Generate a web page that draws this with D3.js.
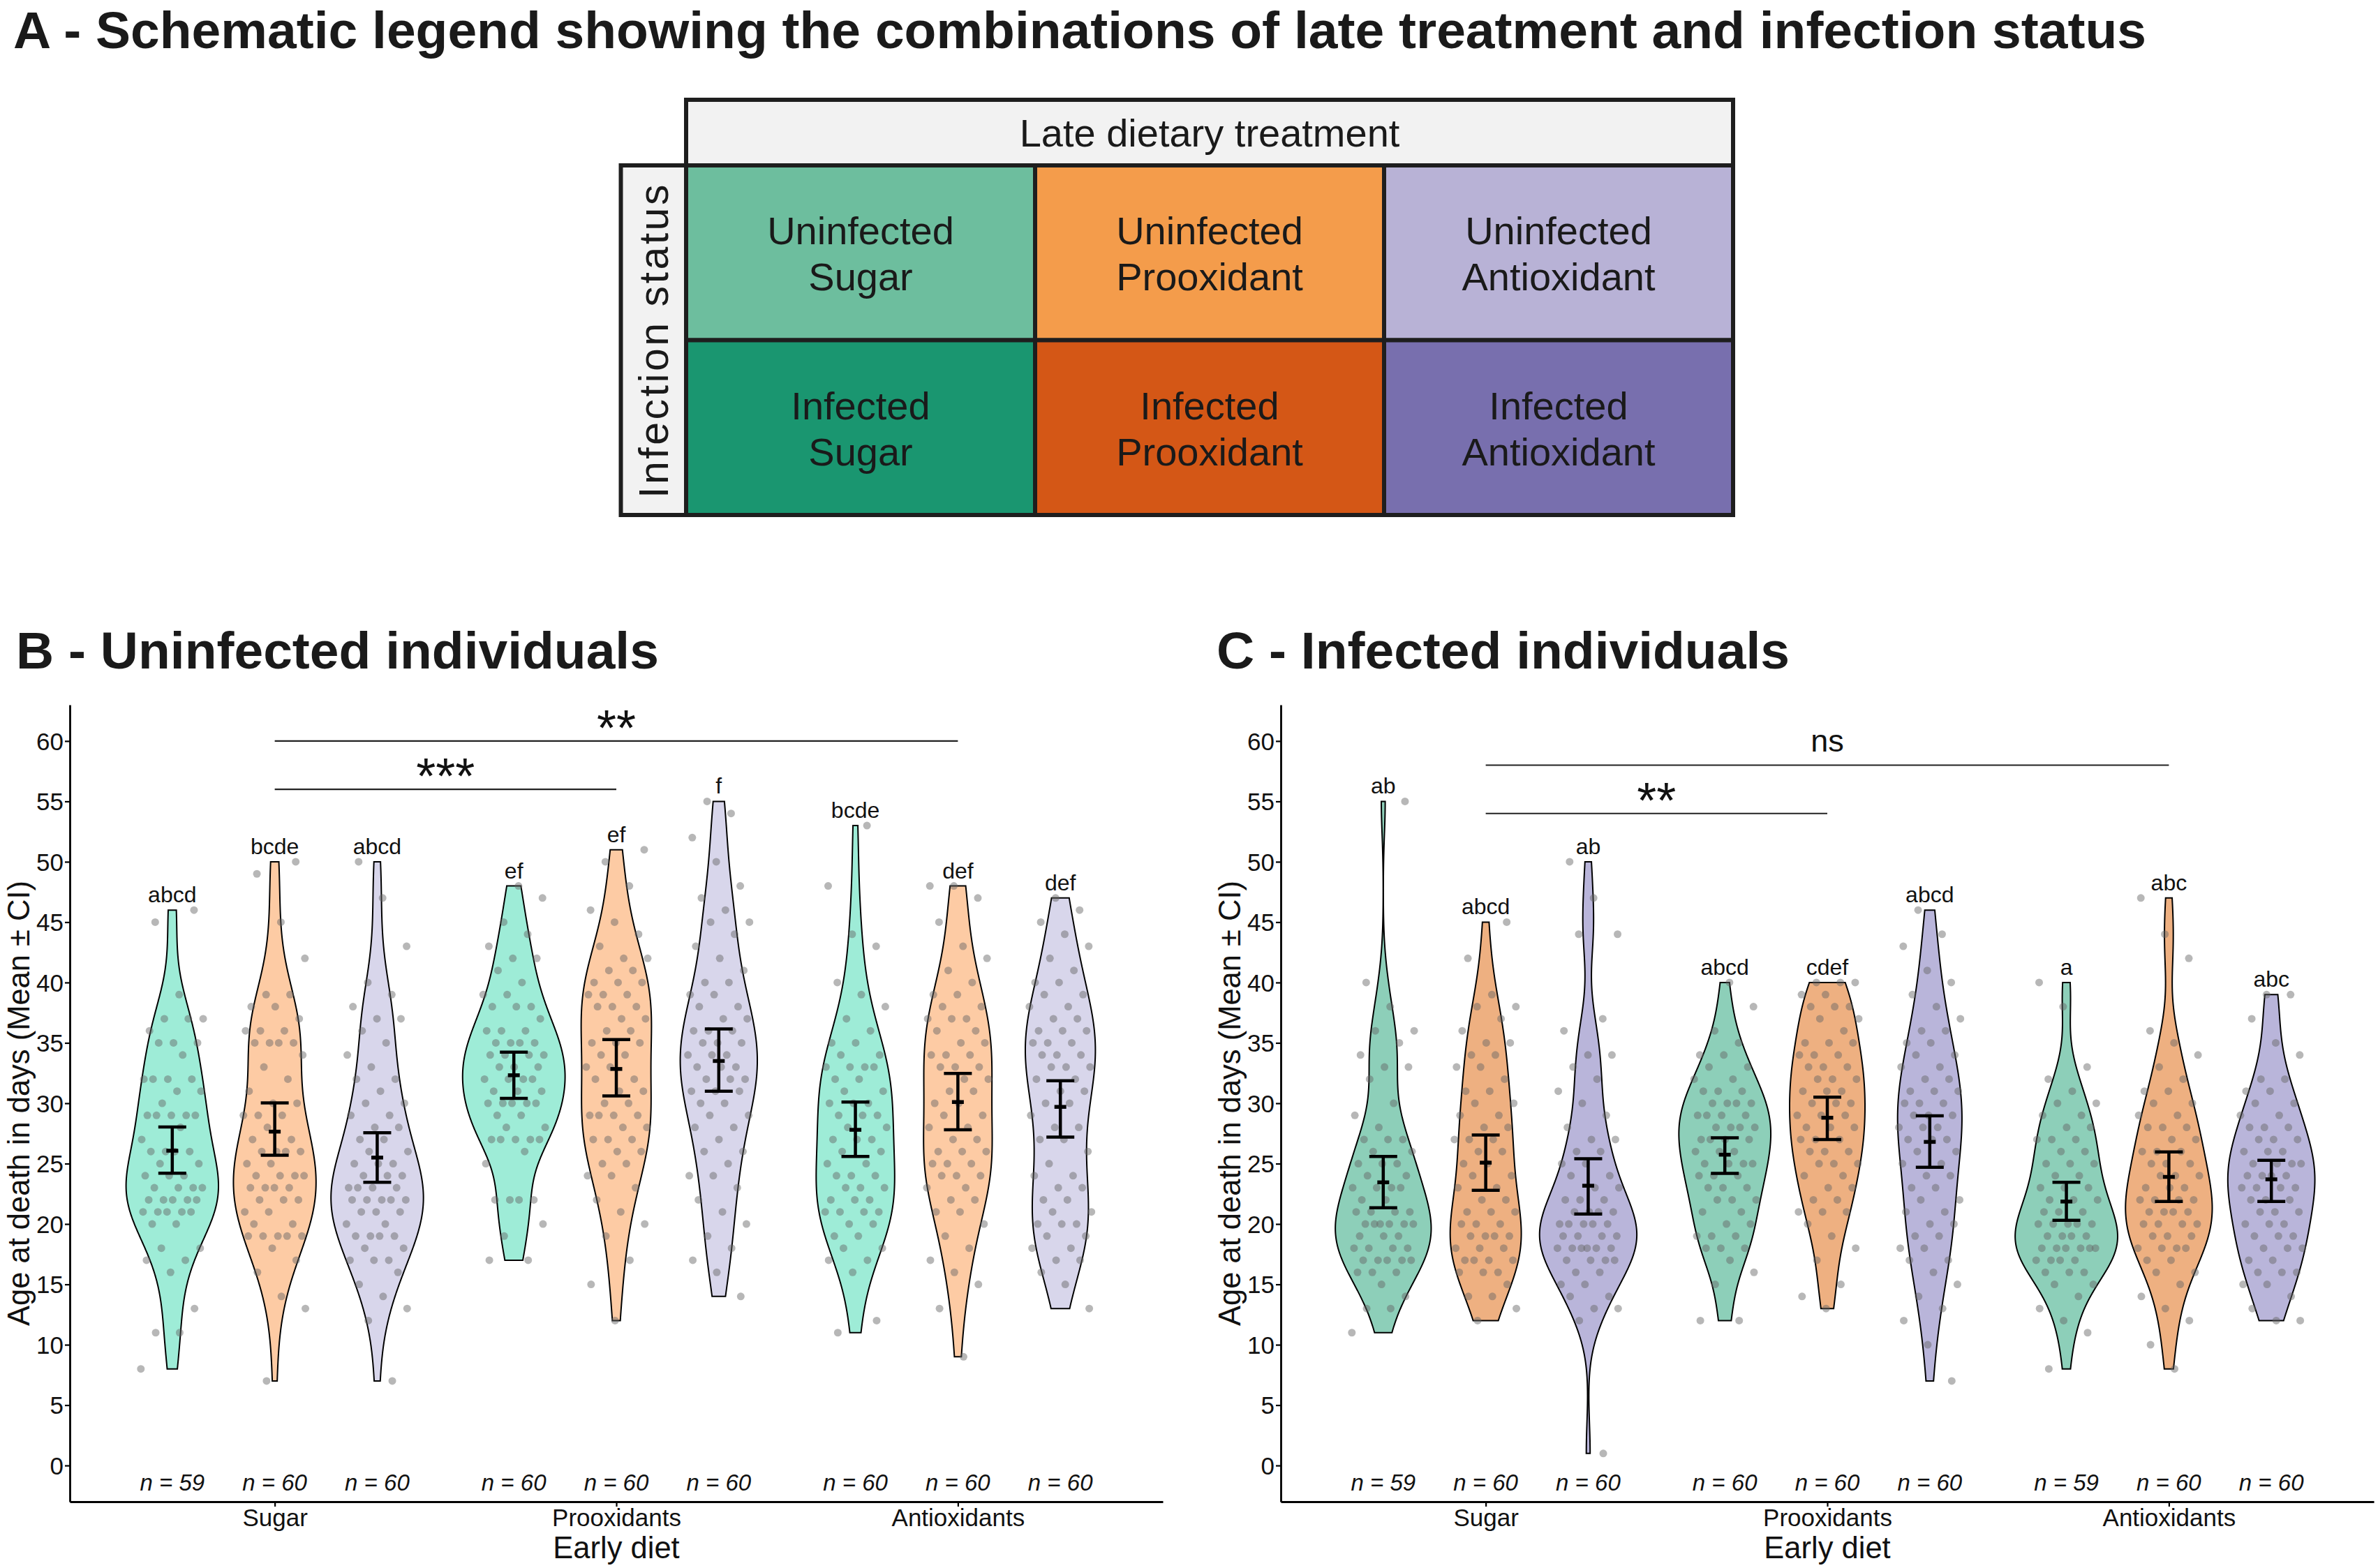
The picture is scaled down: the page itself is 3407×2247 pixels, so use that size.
<!DOCTYPE html>
<html>
<head>
<meta charset="utf-8">
<script src="https://cdn.jsdelivr.net/npm/d3@7"></script>
<style>
  html, body { margin: 0; padding: 0; background: #ffffff; }
  svg { display: block; }
  text { font-family: "Liberation Sans", Arial, Helvetica, sans-serif; fill: #111; }
</style>
</head>
<body>
<svg id="chart" width="3407" height="2247"></svg>
<script>
// ---------------- DATA ----------------
const earlyDiets = ["Sugar", "Prooxidants", "Antioxidants"];
const lateTreatments = ["Sugar", "Prooxidant", "Antioxidant"];
const infectionStatus = ["Uninfected", "Infected"];
const yTicks = [0, 5, 10, 15, 20, 25, 30, 35, 40, 45, 50, 55, 60];

// Panel B – uninfected: age at death (days) per early diet x late treatment
const uSugarSugar = [8,11,11,13,16,17,17,18,18,20,20,21,21,21,21,21,22,22,22,22,22,23,23,23,23,24,24,24,25,25,26,26,26,26,27,28,29,29,29,29,29,30,31,31,32,32,32,32,34,35,35,35,36,37,37,37,39,45,46];
const uSugarProox = [7,13,14,16,17,18,19,19,19,19,19,20,20,21,21,22,22,22,23,23,23,23,24,24,24,24,25,25,26,26,26,26,27,27,28,29,29,29,30,30,31,32,33,34,35,35,35,35,36,36,36,37,38,38,39,39,42,45,49,50];
const uSugarAntiox = [7,12,13,14,15,16,17,17,17,18,18,19,19,19,19,20,20,21,21,21,22,22,22,22,22,23,23,23,23,24,24,24,25,25,25,26,26,27,27,28,28,29,29,30,30,31,32,32,33,34,35,36,37,37,38,39,40,43,47,50];
const uProoxSugar = [17,17,19,20,22,22,22,22,25,26,27,27,27,27,27,28,28,29,29,30,30,30,30,30,31,31,31,32,32,32,32,33,33,33,34,34,34,34,35,35,35,35,36,36,36,37,38,38,38,39,39,40,41,42,42,43,44,45,47,48];
const uProoxProox = [12,15,17,19,20,21,22,23,24,24,25,25,26,26,27,27,27,28,28,29,29,29,29,30,30,31,31,32,32,33,33,34,34,35,35,35,36,36,37,37,38,38,38,39,39,39,40,40,40,41,41,42,42,43,44,45,46,48,50,51];
const uProoxAntiox = [14,16,17,18,19,20,21,22,23,24,24,25,26,26,27,28,28,29,29,30,30,31,31,31,32,32,32,33,33,33,34,34,34,35,35,35,36,36,36,37,37,38,38,39,39,40,40,41,42,43,44,45,45,46,47,48,50,52,54,55];
const uAntioxSugar = [11,12,16,17,17,18,18,19,19,20,20,21,21,21,21,22,22,22,23,23,23,24,24,24,25,25,26,26,27,27,27,28,28,29,29,29,30,30,30,31,31,32,32,33,33,33,33,34,34,35,35,36,37,38,39,40,43,44,48,53];
const uAntioxProox = [9,13,15,16,17,18,19,20,21,21,22,22,23,23,24,24,24,25,25,25,26,26,26,27,27,28,28,29,29,30,30,31,31,32,32,33,33,33,34,34,34,35,35,36,36,37,37,37,38,38,39,39,40,41,42,43,45,47,48,48];
const uAntioxAntiox = [13,15,16,17,17,18,18,19,19,20,20,20,21,21,22,22,23,23,24,24,25,26,27,27,28,28,29,30,30,31,31,32,32,33,33,33,34,34,34,35,35,35,36,36,36,37,37,38,38,39,39,40,40,41,42,43,44,45,46,47];

// Panel C – infected
const iSugarSugar = [11,13,13,14,15,16,16,16,17,17,17,17,17,18,18,18,18,19,19,19,20,20,20,20,20,20,21,21,21,21,22,22,23,23,23,23,24,24,25,25,25,26,26,27,27,27,28,29,30,32,33,33,34,35,36,36,38,40,55];
const iSugarProox = [12,13,14,14,15,16,16,16,17,17,17,17,18,18,18,19,19,19,19,20,20,20,21,21,21,22,22,23,23,24,24,25,25,26,26,27,27,27,28,28,29,29,30,30,31,31,32,33,33,34,34,35,35,36,37,38,38,39,42,45];
const iSugarAntiox = [1,12,13,13,14,14,15,15,16,16,17,17,17,17,18,18,18,18,18,18,19,19,19,19,20,20,20,20,20,21,21,21,21,22,22,22,23,23,24,24,25,25,26,26,27,27,28,29,30,31,32,33,34,34,36,37,44,44,47,50];
const iProoxSugar = [12,12,15,16,17,18,18,18,19,19,19,20,20,21,21,22,22,22,23,23,23,24,24,24,25,25,25,25,26,26,26,27,27,27,27,28,28,28,28,29,29,29,29,30,30,30,30,31,31,31,32,32,33,33,34,34,35,36,38,40];
const iProoxProox = [13,14,15,17,18,19,20,21,21,21,22,22,23,23,24,24,25,25,25,26,26,26,27,27,27,28,28,28,29,29,29,30,30,30,31,31,31,32,32,32,33,33,33,34,34,34,35,35,35,36,37,37,38,38,38,39,39,40,40,40];
const iProoxAntiox = [7,10,12,13,14,15,16,17,17,18,18,19,19,20,20,21,21,22,22,23,23,24,24,25,25,26,26,27,27,27,28,28,28,29,29,29,30,30,30,31,31,31,32,32,33,33,34,34,35,35,36,36,37,38,39,40,41,43,44,46];
const iAntioxSugar = [8,11,12,13,14,15,15,16,16,16,17,17,17,17,18,18,18,18,18,18,19,19,19,19,20,20,20,20,20,21,21,21,22,22,22,23,23,23,24,24,25,25,25,26,26,27,27,27,28,28,29,29,30,30,31,32,33,38,40];
const iAntioxProox = [8,10,12,13,14,15,16,16,17,17,18,18,18,18,19,19,19,20,20,20,20,21,21,21,21,22,22,22,22,23,23,23,24,24,24,25,25,25,26,26,26,27,27,28,28,28,29,29,30,30,31,31,32,33,34,35,36,42,44,47];
const iAntioxAntiox = [12,12,13,14,15,15,16,16,16,17,17,18,18,18,19,19,19,20,20,20,21,21,21,22,22,22,23,23,23,23,24,24,24,24,25,25,25,25,26,26,26,27,27,27,28,28,28,29,29,30,30,31,31,32,32,34,35,37,39,39];

// Mean and 95% CI (order: early diet, then late treatment)
const meanB = [26.07, 27.65, 25.5, 32.32, 32.84, 33.5, 27.8, 30.1, 29.7];
const ciLowB = [24.2, 25.7, 23.45, 30.41, 30.6, 31.0, 25.6, 27.8, 27.2];
const ciHighB = [28.03, 30.03, 27.56, 34.24, 35.27, 36.16, 30.1, 32.47, 31.86];
const lettersB = ["abcd", "bcde", "abcd", "ef", "ef", "f", "bcde", "def", "def"];
const nB = [59, 60, 60, 60, 60, 60, 60, 60, 60];

const meanC = [23.45, 25.08, 23.17, 25.74, 28.8, 26.8, 21.86, 23.9, 23.7];
const ciLowC = [21.35, 22.79, 20.83, 24.19, 27.0, 24.7, 20.3, 21.86, 21.86];
const ciHighC = [25.6, 27.37, 25.4, 27.14, 30.5, 28.96, 23.45, 25.97, 25.27];
const lettersC = ["ab", "abcd", "ab", "abcd", "cdef", "abcd", "a", "abc", "abc"];
const nC = [59, 60, 60, 60, 60, 60, 59, 60, 60];

// Significance brackets between early diets
const sigFromB = ["Sugar", "Sugar"], sigToB = ["Prooxidants", "Antioxidants"], sigYB = [56, 60], sigLabelB = ["***", "**"];
const sigFromC = ["Sugar", "Sugar"], sigToC = ["Prooxidants", "Antioxidants"], sigYC = [54, 58], sigLabelC = ["**", "ns"];

// Colours
const fillsB = ["#9eecd7", "#fdcba4", "#d8d6eb"];
const fillsC = ["#8dcfb9", "#eeb081", "#b9b5da"];
const tableUninfected = ["#6dbe9e", "#f49c4b", "#b8b2d6"];
const tableInfected = ["#1a9670", "#d45716", "#786fae"];

// ---------------- DRAW ----------------
const svg = d3.select("#chart");
const FONT = '"Liberation Sans", Arial, Helvetica, sans-serif';
svg.append("rect").attr("width", 3407).attr("height", 2247).attr("fill", "#ffffff");

// Title A
svg.append("text").attr("x", 19).attr("y", 69).attr("font-size", 75).attr("font-weight", "bold")
  .style("fill", "#1a1a1a").text("A - Schematic legend showing the combinations of late treatment and infection status");

// ---------- Panel A table ----------
const tCol = d3.scaleBand().domain(lateTreatments).range([983, 2483]);
const tRow = d3.scaleBand().domain(infectionStatus).range([237, 738]);
const tA = svg.append("g");
const borderCol = "#1e1e1e";
tA.append("rect").attr("x", 983).attr("y", 143).attr("width", 1500).attr("height", 94)
  .attr("fill", "#f2f2f2").attr("stroke", borderCol).attr("stroke-width", 6);
tA.append("text").attr("x", 1733).attr("y", 210).attr("text-anchor", "middle").attr("font-size", 56)
  .style("fill", "#1a1a1a").text("Late dietary treatment");
tA.append("rect").attr("x", 889.5).attr("y", 237).attr("width", 93.5).attr("height", 501)
  .attr("fill", "#f2f2f2").attr("stroke", borderCol).attr("stroke-width", 6);
tA.append("text").attr("transform", "translate(957,487.5) rotate(-90)").attr("text-anchor", "middle")
  .attr("font-size", 59).attr("letter-spacing", 3.5).style("fill", "#1a1a1a").text("Infection status");

const cells = [];
infectionStatus.forEach((inf, r) => lateTreatments.forEach((lt, c) => {
  cells.push({ inf, lt, color: (r === 0 ? tableUninfected : tableInfected)[c] });
}));
const cg = tA.selectAll("g.cell").data(cells).join("g").attr("class", "cell");
cg.append("rect")
  .attr("x", d => tCol(d.lt)).attr("y", d => tRow(d.inf))
  .attr("width", tCol.bandwidth()).attr("height", tRow.bandwidth())
  .attr("fill", d => d.color).attr("stroke", borderCol).attr("stroke-width", 6);
cg.append("text")
  .attr("x", d => tCol(d.lt) + tCol.bandwidth() / 2)
  .attr("y", d => tRow(d.inf) + tRow.bandwidth() / 2 - 12)
  .attr("text-anchor", "middle").attr("font-size", 56).style("fill", "#1a1a1a").text(d => d.inf);
cg.append("text")
  .attr("x", d => tCol(d.lt) + tCol.bandwidth() / 2)
  .attr("y", d => tRow(d.inf) + tRow.bandwidth() / 2 + 54)
  .attr("text-anchor", "middle").attr("font-size", 56).style("fill", "#1a1a1a").text(d => d.lt);

// ---------- Violin panels ----------
function bwNrd0(x) {
  const s = x.slice().sort(d3.ascending);
  const sd = d3.deviation(s);
  const iqr = d3.quantileSorted(s, 0.75) - d3.quantileSorted(s, 0.25);
  let lo = Math.min(sd, iqr / 1.34);
  if (!(lo > 0)) lo = sd || 1;
  return 0.9 * lo * Math.pow(s.length, -0.2);
}
function kde(vals, bw, t) {
  let s = 0;
  for (const v of vals) { const u = (t - v) / bw; s += Math.exp(-0.5 * u * u); }
  return s / (vals.length * bw * Math.sqrt(2 * Math.PI));
}

const y = d3.scaleLinear().domain([-3, 63]).range([2152, 1010]);

function drawPanel(cfg) {
  const g = svg.append("g");
  const x = d3.scalePoint().domain(earlyDiets).range([cfg.x0, cfg.x1]).padding(0.6);
  const step = x.step();
  const dodge = d3.scaleBand().domain(lateTreatments).range([-0.45 * step, 0.45 * step]);
  const halfW = dodge.bandwidth() / 2;

  const groups = [];
  earlyDiets.forEach((e, i) => lateTreatments.forEach((l, j) => {
    const k = i * 3 + j;
    const vals = cfg.data[k];
    const bw = bwNrd0(vals);
    const lo = d3.min(vals), hi = d3.max(vals);
    const dens = d3.range(512).map(q => { const t = lo + (hi - lo) * q / 511; return { t, d: kde(vals, bw, t) }; });
    groups.push({ e, l, j, k, vals, dens, cx: x(e) + dodge(l) + dodge.bandwidth() / 2 });
  }));
  const maxD = d3.max(groups, gr => d3.max(gr.dens, d => d.d));
  const wScale = d3.scaleLinear().domain([0, maxD]).range([0, halfW]);

  // Violins
  groups.forEach(gr => {
    const area = d3.area().y(d => y(d.t)).x0(d => gr.cx - wScale(d.d)).x1(d => gr.cx + wScale(d.d));
    g.append("path").attr("d", area(gr.dens) + "Z")
      .attr("fill", cfg.fills[gr.j]).attr("stroke", "#000").attr("stroke-width", 2);
  });

  // Jittered points
  groups.forEach(gr => {
    g.append("g").selectAll("circle").data(gr.vals).join("circle")
      .attr("cx", (v, i) => gr.cx + (((i * 0.6180339887 + gr.k * 0.37) % 1) - 0.5) * 90)
      .attr("cy", v => y(v)).attr("r", 5.5)
      .attr("fill", "#666666").attr("fill-opacity", 0.47);
  });

  // Mean ± CI
  groups.forEach(gr => {
    const m = cfg.mean[gr.k], lo = cfg.low[gr.k], hi = cfg.high[gr.k];
    const eb = g.append("g").attr("stroke", "#000").attr("stroke-width", 4.5);
    eb.append("line").attr("x1", gr.cx).attr("x2", gr.cx).attr("y1", y(lo)).attr("y2", y(hi));
    eb.append("line").attr("x1", gr.cx - 20).attr("x2", gr.cx + 20).attr("y1", y(lo)).attr("y2", y(lo));
    eb.append("line").attr("x1", gr.cx - 20).attr("x2", gr.cx + 20).attr("y1", y(hi)).attr("y2", y(hi));
    eb.append("line").attr("x1", gr.cx - 8.5).attr("x2", gr.cx + 8.5).attr("y1", y(m)).attr("y2", y(m)).attr("stroke-width", 5.5);
  });

  // Letters above violins and n labels
  groups.forEach(gr => {
    g.append("text").attr("x", gr.cx).attr("y", y(d3.max(gr.vals)) - 11).attr("text-anchor", "middle")
      .attr("font-size", 32).style("fill", "#111").text(cfg.letters[gr.k]);
    g.append("text").attr("x", gr.cx).attr("y", y(-2) + 1).attr("text-anchor", "middle")
      .attr("font-size", 33).attr("font-style", "italic").style("fill", "#111").text("n = " + cfg.n[gr.k]);
  });

  // Significance brackets
  cfg.sigFrom.forEach((f, i) => {
    const x1 = x(f), x2 = x(cfg.sigTo[i]), yy = y(cfg.sigY[i]);
    g.append("line").attr("x1", x1).attr("x2", x2).attr("y1", yy).attr("y2", yy)
      .attr("stroke", "#222").attr("stroke-width", 2.2);
    const lab = cfg.sigLabel[i];
    const isStar = lab.indexOf("*") >= 0;
    const fs = isStar ? 72 : 45;
    const centerY = yy - (isStar ? 35 : 31);
    g.append("text").attr("x", (x1 + x2) / 2).attr("y", centerY + (isStar ? 0.57 * fs : 0.26 * fs))
      .attr("text-anchor", "middle").attr("font-size", fs).style("fill", "#111").text(lab);
  });

  // Axes
  const yAxis = d3.axisLeft(y).tickValues(yTicks).tickSize(7).tickSizeOuter(0).tickPadding(2);
  const ya = g.append("g").attr("transform", `translate(${cfg.x0},0)`).call(yAxis);
  ya.select(".domain").attr("stroke", "#000").attr("stroke-width", 2.8);
  ya.selectAll(".tick line").attr("stroke", "#000").attr("stroke-width", 2.2);
  ya.selectAll(".tick text").attr("font-size", 35).attr("font-family", FONT).attr("dy", "0.35em").style("fill", "#111");

  const xAxis = d3.axisBottom(x).tickSize(7).tickSizeOuter(0).tickPadding(3);
  const xa = g.append("g").attr("transform", `translate(0,${y(-3)})`).call(xAxis);
  xa.select(".domain").attr("stroke", "#000").attr("stroke-width", 2.8);
  xa.selectAll(".tick line").attr("stroke", "#000").attr("stroke-width", 2.2);
  xa.selectAll(".tick text").attr("font-size", 35).attr("font-family", FONT).style("fill", "#111");

  g.append("text").attr("x", (cfg.x0 + cfg.x1) / 2).attr("y", 2233).attr("text-anchor", "middle")
    .attr("font-size", 43.5).style("fill", "#111").text("Early diet");
  g.append("text").attr("transform", `translate(${cfg.x0 - 58},${(y(-3) + y(63)) / 2}) rotate(-90)`)
    .attr("text-anchor", "middle").attr("font-size", 43.5).style("fill", "#111")
    .text("Age at death in days (Mean ± CI)");

  svg.append("text").attr("x", cfg.titleX).attr("y", 958).attr("font-size", 75).attr("font-weight", "bold")
    .style("fill", "#1a1a1a").text(cfg.title);
}

drawPanel({
  x0: 100, x1: 1666, title: "B - Uninfected individuals", titleX: 23,
  data: [uSugarSugar, uSugarProox, uSugarAntiox, uProoxSugar, uProoxProox, uProoxAntiox, uAntioxSugar, uAntioxProox, uAntioxAntiox],
  mean: meanB, low: ciLowB, high: ciHighB, letters: lettersB, n: nB, fills: fillsB,
  sigFrom: sigFromB, sigTo: sigToB, sigY: sigYB, sigLabel: sigLabelB
});
drawPanel({
  x0: 1835, x1: 3401, title: "C - Infected individuals", titleX: 1743,
  data: [iSugarSugar, iSugarProox, iSugarAntiox, iProoxSugar, iProoxProox, iProoxAntiox, iAntioxSugar, iAntioxProox, iAntioxAntiox],
  mean: meanC, low: ciLowC, high: ciHighC, letters: lettersC, n: nC, fills: fillsC,
  sigFrom: sigFromC, sigTo: sigToC, sigY: sigYC, sigLabel: sigLabelC
});
</script>
</body>
</html>
